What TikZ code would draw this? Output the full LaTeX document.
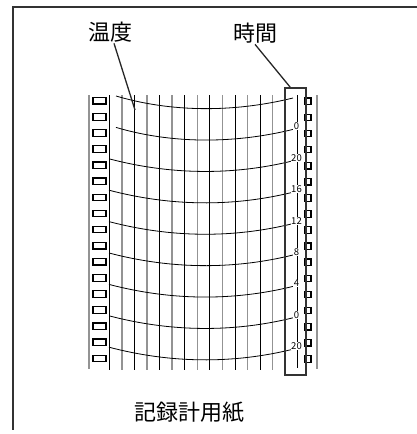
\documentclass[tikz,border=0pt]{standalone}
\usepackage{fontspec}
\setmainfont{Noto Sans CJK JP}
\begin{document}
\begin{tikzpicture}[x=1pt, y=-1pt,
    jlabel/.style={font=\fontsize{22}{24}\selectfont, inner sep=1pt},
    num/.style={font=\fontsize{9.5}{10}\selectfont, fill=white, inner sep=0.5pt},
    hole/.style={draw, line width=1.2pt},
    darkline/.style={line width=0.9pt, black},
    greyline/.style={line width=1.4pt, gray!85},
    timebox/.style={draw=black!80, line width=1.6pt, minimum width=21pt, minimum height=287pt, inner sep=0pt}]

  \useasboundingbox (0,0) rectangle (417,434);
  % frame
  \draw[line width=2pt, black!80] (417,7) -- (13,7) -- (13,430);

  % sprocket strips
  \draw[greyline, line width=2pt] (89,95) -- (89,369);
  \draw[greyline, line width=2pt] (317,95) -- (317,369);
  \foreach \k in {0,...,16} {
    \draw[hole] (93,97.5+16.1*\k) rectangle (106,104+16.1*\k);
    \draw[hole] (304.5,98+16.1*\k) rectangle (311,104.5+16.1*\k);
  }

  % chart lines
  \foreach \i in {0,2,...,12}
    \draw[darkline] (109.3+12.57*\i,95) -- (109.3+12.57*\i,370);
  \foreach \i in {1,3,...,13}
    \draw[greyline] (109.3+12.57*\i,95) -- (109.3+12.57*\i,370);
  \foreach \k/\xs in {0/116,1/116,2/109,3/109,4/109,5/109,6/109,7/109,8/109} {
    \pgfmathsetmacro\yy{96+31.4*\k}
    \draw[line width=0.8pt] (\xs,\yy) .. controls (170,\yy+16) and (232,\yy+17) .. (293,\yy+2);
  }

  % time scale
  \node[timebox] (tbox) at (295.5,231.5) {};
  \draw[line width=0.8pt] (297,95) -- (297,368);
  \foreach \k/\t in {1/0,2/20,3/16,4/12,5/8,6/4,7/0,8/20}
    \node[num] (t\k) at (296.5,95+31.4*\k) {\t};

  % labels
  \node[jlabel] (ondo) at (110,32) {温度};
  \node[jlabel] (jikan) at (255,33) {時間};
  \node[jlabel] (paper) at (189.5,412) {記録計用紙};
  \coordinate (ondotip) at (135,110);
  \draw[line width=1.3pt, black!85] ([xshift=4pt]ondo.south) -- (ondotip);
  \draw[line width=1.3pt, black!85] (jikan.south) -- ([xshift=6pt]tbox.north west);
\end{tikzpicture}
\end{document}
